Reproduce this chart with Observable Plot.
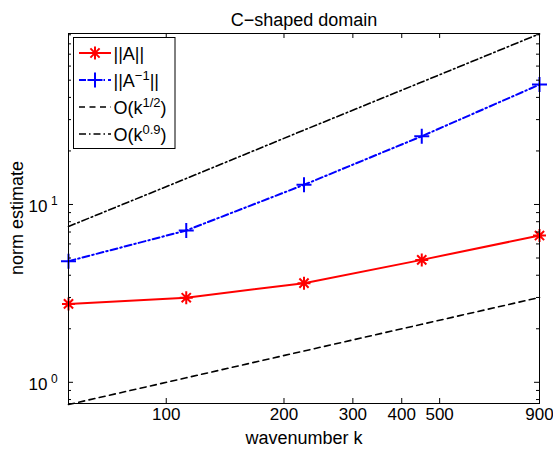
<!DOCTYPE html>
<html><head><meta charset="utf-8">
<script src="https://cdn.jsdelivr.net/npm/d3@7"></script>
<script src="https://cdn.jsdelivr.net/npm/@observablehq/plot@0.6"></script>
<style>body{margin:0;background:#fff} #chart{width:553px;height:454px}</style>
</head><body><div id="chart"></div>
<script>
// ---- data ----
const k = [56.25, 112.5, 225, 450, 900];
const normA = [2.76, 2.99, 3.61, 4.88, 6.69];
const normAinv = [4.80, 7.14, 12.9, 24.2, 47.2];
const refHalf = [0.75, 1.06, 1.50, 2.12, 3.00];
const ref09 = [7.52, 14.0, 26.2, 48.8, 91.1];
const xTicks = [100, 200, 300, 400, 500, 900];
const yMajor = [1, 10];
const yMinor = [0.8, 0.9, 2, 3, 4, 5, 6, 7, 8, 9, 20, 30, 40, 50, 60, 70, 80, 90];
const titleText = "C\u2212shaped domain";
const xLabel = "wavenumber k";
const yLabel = "norm estimate";

const rows = k.map((kk, i) => ({k: kk, a: normA[i], ainv: normAinv[i], h: refHalf[i], n: ref09[i]}));

const W = 553, H = 454, mL = 68, mR = 14, mT = 33, mB = 51;
const fw = W - mL - mR, fh = H - mT - mB;
const FONT = "'Liberation Sans', Arial, Helvetica, sans-serif";

const starSym = {draw(ctx, size) {
  const r = Math.sqrt(size / Math.PI), d = r * Math.SQRT1_2;
  ctx.moveTo(-r, 0); ctx.lineTo(r, 0); ctx.moveTo(0, -r); ctx.lineTo(0, r);
  ctx.moveTo(-d, -d); ctx.lineTo(d, d); ctx.moveTo(-d, d); ctx.lineTo(d, -d);
}};
const plusSym = {draw(ctx, size) {
  const r = Math.sqrt(size / Math.PI);
  ctx.moveTo(-r, 0); ctx.lineTo(r, 0); ctx.moveTo(0, -r); ctx.lineTo(0, r);
}};
const DASHDOT = "7,3,1.5,3";
const DASH = "6,4.5";

const plot = Plot.plot({
  width: W, height: H,
  marginLeft: mL, marginRight: mR, marginTop: mT, marginBottom: mB,
  style: `font-family:${FONT};font-size:17px;background:#fff;overflow:visible;`,
  x: {type: "log", domain: [56.25, 900], axis: null},
  y: {type: "log", domain: [0.76, 91.5], axis: null},
  marks: [
    Plot.line(rows, {x: "k", y: "h", stroke: "black", strokeWidth: 1.6, strokeDasharray: DASH}),
    Plot.line(rows, {x: "k", y: "n", stroke: "black", strokeWidth: 1.6, strokeDasharray: DASHDOT}),
    Plot.line(rows, {x: "k", y: "a", stroke: "red", strokeWidth: 2}),
    Plot.line(rows, {x: "k", y: "ainv", stroke: "blue", strokeWidth: 2, strokeDasharray: DASHDOT}),
    Plot.dot(rows, {x: "k", y: "a", symbol: starSym, r: 6.5, fill: "none", stroke: "red", strokeWidth: 2}),
    Plot.dot(rows, {x: "k", y: "ainv", symbol: plusSym, r: 7.5, fill: "none", stroke: "blue", strokeWidth: 2}),
    // inward ticks on all four sides
    Plot.tickX(xTicks, {x: d => d, insetTop: fh - 5, stroke: "black"}),
    Plot.tickX(xTicks, {x: d => d, insetBottom: fh - 5, stroke: "black"}),
    Plot.tickY(yMajor, {y: d => d, insetRight: fw - 5, stroke: "black"}),
    Plot.tickY(yMajor, {y: d => d, insetLeft: fw - 5, stroke: "black"}),
    Plot.tickY(yMinor, {y: d => d, insetRight: fw - 3, stroke: "black"}),
    Plot.tickY(yMinor, {y: d => d, insetLeft: fw - 3, stroke: "black"}),
    Plot.frame({stroke: "black", strokeWidth: 1}),
    // tick labels
    Plot.text(xTicks, {x: d => d, frameAnchor: "bottom", dy: 16.5, text: d => String(d), fontSize: 17, fill: "black"}),
    Plot.text(yMajor, {y: d => d, frameAnchor: "left", dx: -21, dy: 2.5, textAnchor: "end", text: () => "10", fontSize: 17, fill: "black"}),
    Plot.text(yMajor, {y: d => d, frameAnchor: "left", dx: -17.5, dy: -3, textAnchor: "start", text: d => String(Math.round(Math.log10(d))), fontSize: 12, fill: "black"}),
    // title and x label
    Plot.text([titleText], {frameAnchor: "top", dy: -20.3, text: d => d, fontSize: 18, fill: "black"}),
    Plot.text([xLabel], {frameAnchor: "bottom", dy: 40.2, text: d => d, fontSize: 18, fill: "black"})
  ]
});
document.getElementById("chart").appendChild(plot);

const svg = d3.select(plot);
// y-axis label, rotated, centred on the frame
svg.append("text")
  .attr("transform", `translate(${mL - 45.3},${mT + fh / 2}) rotate(-90)`)
  .attr("text-anchor", "middle").attr("font-family", FONT).attr("font-size", 18)
  .attr("fill", "black").text(yLabel);

// ---- legend (MATLAB-style box in the upper-left corner) ----
const lg = svg.append("g").attr("font-family", FONT).attr("font-size", 18)
  .attr("fill", "black").attr("text-anchor", "start");
lg.append("rect").attr("x", 73.5).attr("y", 37.5).attr("width", 101.5).attr("height", 111)
  .attr("fill", "white").attr("stroke", "black").attr("stroke-width", 1);
const entries = [
  {y: 53, stroke: "red", dash: null, sw: 2, sym: starSym, r: 6.5, parts: [["||A||", 0]]},
  {y: 80, stroke: "blue", dash: DASHDOT, sw: 2, sym: plusSym, r: 7.5, parts: [["||A", 0], ["\u22121", 1], ["||", 0]]},
  {y: 107, stroke: "black", dash: DASH, sw: 1.6, sym: null, parts: [["O(k", 0], ["1/2", 1], [")", 0]]},
  {y: 134, stroke: "black", dash: DASHDOT, sw: 1.6, sym: null, parts: [["O(k", 0], ["0.9", 1], [")", 0]]}
];
for (const e of entries) {
  lg.append("line").attr("x1", 79).attr("x2", 111).attr("y1", e.y).attr("y2", e.y)
    .attr("stroke", e.stroke).attr("stroke-width", e.sw).attr("stroke-dasharray", e.dash);
  if (e.sym) {
    lg.append("path").attr("transform", `translate(95,${e.y})`)
      .attr("d", d3.symbol(e.sym, e.r * e.r * Math.PI)()).attr("fill", "none")
      .attr("stroke", e.stroke).attr("stroke-width", 2);
  }
  const t = lg.append("text").attr("x", 113.5).attr("y", e.y + 6.5);
  let sup = 0;
  for (const [s, isSup] of e.parts) {
    const dy = isSup && !sup ? -7 : (!isSup && sup ? 7 : 0);
    t.append("tspan").attr("dy", dy).attr("font-size", isSup ? 13 : 18).text(s);
    sup = isSup;
  }
}
</script>
</body></html>
